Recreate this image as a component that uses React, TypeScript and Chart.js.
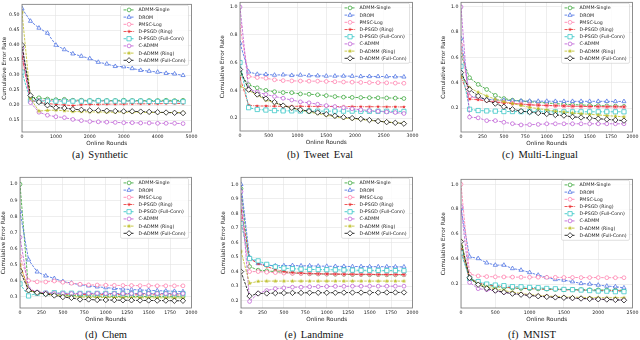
import React, { useEffect, useRef } from 'react';
import { Chart, registerables } from 'chart.js';

Chart.register(...registerables);

// ---------------- DATA ----------------
const seriesNames = [
  'ADMM-Single',
  'DROM',
  'PMSC-Log',
  'D-PSGD (Ring)',
  'D-PSGD (Full-Conn)',
  'C-ADMM',
  'D-ADMM (Ring)',
  'D-ADMM (Full-Conn)',
];

// (a) Synthetic
const synRounds = [0, 250, 500, 750, 1000, 1250, 1500, 1750, 2000, 2250, 2500, 2750, 3000, 3250, 3500, 3750, 4000, 4250, 4500, 4750];
const synADMMSingle = [0.39, 0.226, 0.224, 0.220, 0.218, 0.219, 0.216, 0.216, 0.215, 0.216, 0.215, 0.215, 0.216, 0.215, 0.215, 0.215, 0.215, 0.216, 0.215, 0.216];
const synDROM = [0.522, 0.480, 0.457, 0.440, 0.400, 0.385, 0.371, 0.363, 0.355, 0.343, 0.337, 0.329, 0.328, 0.322, 0.316, 0.313, 0.310, 0.306, 0.304, 0.299];
const synPMSCLog = [0.37, 0.215, 0.216, 0.215, 0.214, 0.215, 0.214, 0.214, 0.213, 0.214, 0.213, 0.213, 0.213, 0.213, 0.213, 0.212, 0.212, 0.212, 0.212, 0.211];
const synDPSGDRing = [0.36, 0.215, 0.210, 0.205, 0.202, 0.200, 0.198, 0.201, 0.202, 0.202, 0.203, 0.203, 0.203, 0.204, 0.204, 0.204, 0.204, 0.205, 0.205, 0.205];
const synDPSGDFull = [0.31, 0.214, 0.213, 0.213, 0.213, 0.213, 0.213, 0.213, 0.213, 0.214, 0.213, 0.213, 0.213, 0.213, 0.213, 0.212, 0.212, 0.212, 0.211, 0.211];
const synCADMM = [0.39, 0.208, 0.176, 0.166, 0.161, 0.158, 0.152, 0.148, 0.145, 0.144, 0.143, 0.142, 0.141, 0.141, 0.140, 0.140, 0.139, 0.139, 0.139, 0.138];
const synDADMMRing = [0.51, 0.222, 0.180, 0.182, 0.183, 0.181, 0.178, 0.178, 0.177, 0.177, 0.176, 0.176, 0.176, 0.176, 0.176, 0.175, 0.175, 0.175, 0.175, 0.175];
const synDADMMFull = [0.40, 0.232, 0.210, 0.199, 0.191, 0.190, 0.186, 0.184, 0.182, 0.182, 0.181, 0.180, 0.179, 0.179, 0.178, 0.177, 0.176, 0.175, 0.174, 0.173];

// (b) Tweet Eval
const twRounds = [0, 150, 300, 450, 600, 750, 900, 1050, 1200, 1350, 1500, 1650, 1800, 1950, 2100, 2250, 2400, 2550, 2700, 2850];
const twADMMSingle = [0.52, 0.44, 0.418, 0.40, 0.39, 0.384, 0.383, 0.374, 0.372, 0.368, 0.362, 0.355, 0.351, 0.349, 0.348, 0.347, 0.346, 0.345, 0.344, 0.341];
const twDROM = [0.74, 0.533, 0.516, 0.515, 0.51, 0.512, 0.508, 0.51, 0.506, 0.505, 0.503, 0.503, 0.503, 0.502, 0.500, 0.500, 0.500, 0.499, 0.498, 0.497];
const twPMSCLog = [0.86, 0.50, 0.492, 0.487, 0.476, 0.47, 0.468, 0.467, 0.466, 0.466, 0.464, 0.462, 0.46, 0.459, 0.457, 0.456, 0.455, 0.454, 0.452, 0.451];
const twDPSGDRing = [0.49, 0.293, 0.287, 0.287, 0.285, 0.285, 0.285, 0.285, 0.284, 0.284, 0.284, 0.283, 0.283, 0.283, 0.282, 0.282, 0.282, 0.281, 0.281, 0.28];
const twDPSGDFull = [0.60, 0.275, 0.262, 0.258, 0.254, 0.252, 0.252, 0.251, 0.251, 0.25, 0.25, 0.25, 0.25, 0.25, 0.249, 0.249, 0.249, 0.249, 0.249, 0.248];
const twCADMM = [1.0, 0.41, 0.388, 0.37, 0.356, 0.343, 0.33, 0.317, 0.31, 0.30, 0.29, 0.283, 0.275, 0.267, 0.26, 0.254, 0.249, 0.244, 0.24, 0.233];
const twDADMMRing = [0.43, 0.40, 0.365, 0.33, 0.31, 0.29, 0.273, 0.258, 0.243, 0.233, 0.22, 0.21, 0.20, 0.195, 0.19, 0.183, 0.178, 0.172, 0.167, 0.162];
const twDADMMFull = [0.55, 0.405, 0.37, 0.34, 0.315, 0.29, 0.274, 0.26, 0.25, 0.24, 0.228, 0.216, 0.206, 0.2, 0.194, 0.186, 0.178, 0.171, 0.166, 0.16];

// (c) Multi-Lingual
const mlRounds = [0, 100, 200, 300, 400, 500, 600, 700, 800, 900, 1000, 1100, 1200, 1300, 1400, 1500, 1600, 1700, 1800, 1900];
const mlADMMSingle = [0.62, 0.44, 0.387, 0.347, 0.30, 0.275, 0.262, 0.255, 0.25, 0.245, 0.24, 0.235, 0.23, 0.227, 0.224, 0.221, 0.219, 0.217, 0.215, 0.213];
const mlDROM = [0.75, 0.295, 0.28, 0.27, 0.265, 0.262, 0.258, 0.256, 0.255, 0.254, 0.254, 0.253, 0.253, 0.253, 0.253, 0.253, 0.253, 0.253, 0.252, 0.252];
const mlPMSCLog = [0.70, 0.29, 0.275, 0.26, 0.25, 0.245, 0.238, 0.232, 0.227, 0.222, 0.22, 0.218, 0.215, 0.213, 0.212, 0.211, 0.21, 0.209, 0.208, 0.207];
const mlDPSGDRing = [0.45, 0.27, 0.265, 0.255, 0.245, 0.24, 0.235, 0.23, 0.225, 0.222, 0.22, 0.218, 0.216, 0.214, 0.213, 0.212, 0.211, 0.21, 0.21, 0.209];
const mlDPSGDFull = [0.53, 0.19, 0.18, 0.177, 0.175, 0.172, 0.172, 0.171, 0.171, 0.171, 0.17, 0.17, 0.17, 0.17, 0.17, 0.17, 0.17, 0.17, 0.17, 0.17];
const mlCADMM = [1.0, 0.128, 0.122, 0.10, 0.10, 0.087, 0.076, 0.066, 0.068, 0.07, 0.075, 0.075, 0.075, 0.075, 0.075, 0.075, 0.075, 0.075, 0.075, 0.075];
const mlDADMMRing = [0.45, 0.36, 0.325, 0.295, 0.27, 0.25, 0.235, 0.22, 0.205, 0.195, 0.185, 0.175, 0.168, 0.16, 0.155, 0.15, 0.145, 0.14, 0.135, 0.13];
const mlDADMMFull = [0.48, 0.347, 0.295, 0.262, 0.235, 0.21, 0.19, 0.175, 0.168, 0.16, 0.153, 0.145, 0.14, 0.13, 0.125, 0.12, 0.115, 0.11, 0.105, 0.10];

// (d) Chem
const chRounds = [0, 100, 200, 300, 400, 500, 600, 700, 800, 900, 1000, 1100, 1200, 1300, 1400, 1500, 1600, 1700, 1800, 1900];
const chADMMSingle = [1.0, 0.34, 0.325, 0.318, 0.314, 0.31, 0.308, 0.306, 0.305, 0.304, 0.303, 0.303, 0.302, 0.302, 0.301, 0.301, 0.301, 0.30, 0.30, 0.30];
const chDROM = [0.83, 0.53, 0.455, 0.43, 0.414, 0.395, 0.385, 0.375, 0.368, 0.362, 0.357, 0.352, 0.348, 0.345, 0.342, 0.34, 0.338, 0.336, 0.334, 0.332];
const chPMSCLog = [0.55, 0.40, 0.393, 0.392, 0.398, 0.39, 0.384, 0.378, 0.374, 0.373, 0.372, 0.371, 0.37, 0.37, 0.369, 0.369, 0.368, 0.368, 0.368, 0.368];
const chDPSGDRing = [0.50, 0.345, 0.33, 0.322, 0.318, 0.316, 0.315, 0.314, 0.314, 0.313, 0.313, 0.313, 0.313, 0.312, 0.312, 0.312, 0.312, 0.312, 0.311, 0.311];
const chDPSGDFull = [0.38, 0.305, 0.322, 0.322, 0.325, 0.322, 0.322, 0.321, 0.321, 0.321, 0.321, 0.32, 0.32, 0.32, 0.32, 0.32, 0.32, 0.32, 0.319, 0.319];
const chCADMM = [0.67, 0.35, 0.33, 0.325, 0.322, 0.32, 0.32, 0.32, 0.32, 0.321, 0.32, 0.32, 0.32, 0.32, 0.32, 0.32, 0.32, 0.32, 0.32, 0.32];
const chDADMMRing = [0.50, 0.34, 0.325, 0.316, 0.31, 0.305, 0.30, 0.298, 0.297, 0.296, 0.295, 0.295, 0.294, 0.294, 0.294, 0.293, 0.293, 0.293, 0.292, 0.292];
const chDADMMFull = [0.46, 0.34, 0.325, 0.317, 0.308, 0.298, 0.293, 0.283, 0.283, 0.28, 0.28, 0.279, 0.278, 0.278, 0.277, 0.277, 0.276, 0.276, 0.275, 0.275];

// (e) Landmine
const lmRounds = [0, 100, 200, 300, 400, 500, 600, 700, 800, 900, 1000, 1100, 1200, 1300, 1400, 1500, 1600, 1700, 1800, 1900];
const lmADMMSingle = [0.97, 0.435, 0.41, 0.405, 0.40, 0.395, 0.39, 0.388, 0.385, 0.384, 0.383, 0.382, 0.381, 0.38, 0.38, 0.379, 0.379, 0.378, 0.378, 0.378];
const lmDROM = [1.0, 0.497, 0.456, 0.445, 0.44, 0.441, 0.442, 0.44, 0.44, 0.438, 0.437, 0.436, 0.436, 0.435, 0.435, 0.434, 0.434, 0.434, 0.433, 0.433];
const lmPMSCLog = [0.78, 0.40, 0.40, 0.396, 0.393, 0.39, 0.388, 0.387, 0.386, 0.385, 0.384, 0.384, 0.383, 0.383, 0.382, 0.382, 0.381, 0.381, 0.38, 0.38];
const lmDPSGDRing = [0.82, 0.49, 0.455, 0.435, 0.415, 0.40, 0.393, 0.39, 0.387, 0.385, 0.384, 0.383, 0.382, 0.382, 0.381, 0.381, 0.38, 0.38, 0.38, 0.38];
const lmDPSGDFull = [0.73, 0.49, 0.474, 0.45, 0.433, 0.424, 0.42, 0.417, 0.415, 0.414, 0.413, 0.412, 0.411, 0.41, 0.409, 0.409, 0.408, 0.407, 0.407, 0.406];
const lmCADMM = [0.95, 0.195, 0.25, 0.27, 0.283, 0.288, 0.293, 0.293, 0.296, 0.297, 0.298, 0.299, 0.299, 0.3, 0.3, 0.3, 0.3, 0.3, 0.3, 0.3];
const lmDADMMRing = [0.54, 0.32, 0.333, 0.335, 0.335, 0.335, 0.335, 0.335, 0.335, 0.335, 0.335, 0.335, 0.335, 0.335, 0.335, 0.335, 0.335, 0.335, 0.335, 0.335];
const lmDADMMFull = [0.40, 0.232, 0.25, 0.25, 0.252, 0.253, 0.254, 0.254, 0.255, 0.255, 0.255, 0.255, 0.256, 0.256, 0.256, 0.256, 0.256, 0.257, 0.257, 0.257];

// (f) MNIST
const mnRounds = [0, 125, 250, 375, 500, 625, 750, 875, 1000, 1125, 1250, 1375, 1500, 1625, 1750, 1875, 2000, 2125, 2250, 2375];
const mnADMMSingle = [0.50, 0.24, 0.205, 0.19, 0.18, 0.172, 0.168, 0.165, 0.163, 0.161, 0.16, 0.158, 0.157, 0.156, 0.155, 0.154, 0.153, 0.152, 0.151, 0.15];
const mnDROM = [0.805, 0.419, 0.405, 0.37, 0.352, 0.352, 0.325, 0.312, 0.293, 0.272, 0.253, 0.237, 0.232, 0.219, 0.205, 0.2, 0.192, 0.184, 0.179, 0.17];
const mnPMSCLog = [1.0, 0.28, 0.265, 0.26, 0.258, 0.257, 0.256, 0.255, 0.255, 0.255, 0.254, 0.254, 0.253, 0.253, 0.252, 0.252, 0.252, 0.251, 0.251, 0.251];
const mnDPSGDRing = [0.48, 0.25, 0.21, 0.195, 0.185, 0.176, 0.17, 0.166, 0.163, 0.16, 0.158, 0.156, 0.154, 0.152, 0.151, 0.15, 0.149, 0.148, 0.147, 0.145];
const mnDPSGDFull = [0.45, 0.245, 0.22, 0.2, 0.192, 0.187, 0.179, 0.178, 0.173, 0.171, 0.165, 0.162, 0.157, 0.155, 0.152, 0.148, 0.144, 0.143, 0.139, 0.139];
const mnCADMM = [0.82, 0.213, 0.163, 0.155, 0.145, 0.133, 0.125, 0.118, 0.11, 0.105, 0.1, 0.095, 0.092, 0.088, 0.085, 0.083, 0.08, 0.078, 0.075, 0.073];
const mnDADMMRing = [0.55, 0.25, 0.2, 0.178, 0.162, 0.148, 0.135, 0.125, 0.115, 0.11, 0.104, 0.1, 0.097, 0.095, 0.093, 0.092, 0.091, 0.09, 0.09, 0.09];
const mnDADMMFull = [0.54, 0.25, 0.195, 0.165, 0.148, 0.135, 0.123, 0.115, 0.108, 0.102, 0.097, 0.093, 0.09, 0.087, 0.084, 0.081, 0.078, 0.076, 0.073, 0.07];

const xAxisTitle = 'Online Rounds';
const yAxisTitle = 'Cumulative Error Rate';

// ---------------- STYLES ----------------
const FONT = "'DejaVu Sans', sans-serif";
const TEXT = '#222222';

function makeStar(color: string, size: number) {
  const c = document.createElement('canvas');
  const s = Math.ceil(size) + 2;
  c.width = s;
  c.height = s;
  const g = c.getContext('2d')!;
  const cx = s / 2;
  const cy = s / 2;
  const R = size / 2;
  const r = R * 0.42;
  g.beginPath();
  for (let i = 0; i < 10; i++) {
    const ang = -Math.PI / 2 + (i * Math.PI) / 5;
    const rad = i % 2 === 0 ? R : r;
    g.lineTo(cx + rad * Math.cos(ang), cy + rad * Math.sin(ang));
  }
  g.closePath();
  g.fillStyle = color;
  g.fill();
  return c;
}

type SeriesStyle = {
  color: string;
  marker: string;
  radius: number;
  dash: number[];
  fill: string;
  star?: number;
};

const DASH = [2.6, 1.1];
const DASHDOT = [3, 1, 0.8, 1];

const seriesStyles: SeriesStyle[] = [
  { color: '#2ca02c', marker: 'circle', radius: 1.9, dash: DASH, fill: '#ffffff' },
  { color: '#4169e1', marker: 'triangle', radius: 2.4, dash: DASH, fill: '#ffffff' },
  { color: '#ff77a8', marker: 'circle', radius: 1.9, dash: DASH, fill: '#ffffff' },
  { color: '#e8282a', marker: 'star', radius: 2, dash: DASHDOT, fill: '#e8282a', star: 4 },
  { color: '#22c0c0', marker: 'rect', radius: 3.0, dash: DASH, fill: '#ffffff' },
  { color: '#ba55d3', marker: 'circle', radius: 1.9, dash: DASH, fill: '#ffffff' },
  { color: '#bcbd22', marker: 'star', radius: 2.2, dash: DASH, fill: '#bcbd22', star: 4.6 },
  { color: '#000000', marker: 'rectRot', radius: 2.7, dash: DASH, fill: '#ffffff' },
];

type Panel = {
  rounds: number[];
  series: number[][];
  xMax: number;
  xStep: number;
  yMin: number;
  yMax: number;
  yStep: number;
  yDec: number;
  plot: { l: number; r: number; t: number; b: number };
  caption: string;
  capX: number;
  capY: number;
};

const panels: Panel[] = [
  {
    rounds: synRounds,
    series: [synADMMSingle, synDROM, synPMSCLog, synDPSGDRing, synDPSGDFull, synCADMM, synDADMMRing, synDADMMFull],
    xMax: 5000, xStep: 1000, yMin: 0.11, yMax: 0.536, yStep: 0.05, yDec: 2,
    plot: { l: 22, r: 193, t: 4, b: 132 },
    caption: '(a) Synthetic', capX: 100, capY: 155,
  },
  {
    rounds: twRounds,
    series: [twADMMSingle, twDROM, twPMSCLog, twDPSGDRing, twDPSGDFull, twCADMM, twDADMMRing, twDADMMFull],
    xMax: 3000, xStep: 500, yMin: 0.107, yMax: 1.034, yStep: 0.2, yDec: 1,
    plot: { l: 240, r: 414, t: 2, b: 131 },
    caption: '(b) Tweet Eval', capX: 320, capY: 155,
  },
  {
    rounds: mlRounds,
    series: [mlADMMSingle, mlDROM, mlPMSCLog, mlDPSGDRing, mlDPSGDFull, mlCADMM, mlDADMMRing, mlDADMMFull],
    xMax: 2000, xStep: 250, yMin: 0.01, yMax: 1.037, yStep: 0.2, yDec: 1,
    plot: { l: 461, r: 634, t: 2, b: 132 },
    caption: '(c) Multi-Lingual', capX: 540, capY: 155,
  },
  {
    rounds: chRounds,
    series: [chADMMSingle, chDROM, chPMSCLog, chDPSGDRing, chDPSGDFull, chCADMM, chDADMMRing, chDADMMFull],
    xMax: 2000, xStep: 250, yMin: 0.23, yMax: 1.043, yStep: 0.1, yDec: 1,
    plot: { l: 20, r: 193, t: 177, b: 308 },
    caption: '(d) Chem', capX: 106, capY: 335,
  },
  {
    rounds: lmRounds,
    series: [lmADMMSingle, lmDROM, lmPMSCLog, lmDPSGDRing, lmDPSGDFull, lmCADMM, lmDADMMRing, lmDADMMFull],
    xMax: 2000, xStep: 250, yMin: 0.15, yMax: 1.048, yStep: 0.1, yDec: 1,
    plot: { l: 241, r: 414, t: 177, b: 308 },
    caption: '(e) Landmine', capX: 314, capY: 335,
  },
  {
    rounds: mnRounds,
    series: [mnADMMSingle, mnDROM, mnPMSCLog, mnDPSGDRing, mnDPSGDFull, mnCADMM, mnDADMMRing, mnDADMMFull],
    xMax: 2500, xStep: 500, yMin: 0.008, yMax: 1.04, yStep: 0.2, yDec: 1,
    plot: { l: 461, r: 634, t: 179, b: 308 },
    caption: '(f) MNIST', capX: 532, capY: 335,
  },
];

// ---------------- PLUGINS ----------------
function drawMarker(ctx: CanvasRenderingContext2D, st: SeriesStyle, img: any, x: number, y: number) {
  if (st.marker === 'star') {
    ctx.drawImage(img, x - img.width / 2, y - img.height / 2);
    return;
  }
  const r = st.radius;
  ctx.beginPath();
  if (st.marker === 'circle') {
    ctx.arc(x, y, r, 0, Math.PI * 2);
  } else if (st.marker === 'triangle') {
    for (let i = 0; i < 3; i++) {
      const a = -Math.PI / 2 + (i * 2 * Math.PI) / 3;
      ctx.lineTo(x + r * Math.cos(a), y + r * Math.sin(a));
    }
    ctx.closePath();
  } else if (st.marker === 'rect') {
    const h = r * Math.SQRT1_2;
    ctx.rect(x - h, y - h, 2 * h, 2 * h);
  } else if (st.marker === 'rectRot') {
    ctx.moveTo(x, y - r);
    ctx.lineTo(x + r, y);
    ctx.lineTo(x, y + r);
    ctx.lineTo(x - r, y);
    ctx.closePath();
  }
  ctx.fillStyle = st.fill;
  ctx.fill();
  ctx.strokeStyle = st.color;
  ctx.lineWidth = 0.7;
  ctx.stroke();
}

const framePlugin = {
  id: 'frame',
  afterDatasetsDraw(chart: any) {
    const { ctx, chartArea: a } = chart;
    ctx.save();
    ctx.strokeStyle = '#777777';
    ctx.lineWidth = 0.8;
    ctx.strokeRect(a.left, a.top, a.right - a.left, a.bottom - a.top);
    ctx.restore();
  },
};

const legendPlugin = {
  id: 'innerLegend',
  afterDraw(chart: any) {
    const { ctx, chartArea: a } = chart;
    const boxW = 68;
    const rowH = 7.2;
    const boxH = 60;
    const x0 = a.right - 3 - boxW;
    const y0 = a.top + 1;
    ctx.save();
    ctx.fillStyle = 'rgba(255,255,255,0.85)';
    ctx.strokeStyle = '#cccccc';
    ctx.lineWidth = 0.6;
    ctx.beginPath();
    (ctx as any).roundRect(x0, y0, boxW, boxH, 1.5);
    ctx.fill();
    ctx.stroke();
    chart.data.datasets.forEach((ds: any, i: number) => {
      const st: SeriesStyle = ds._style;
      const cy = y0 + 4.6 + rowH * i;
      ctx.save();
      ctx.strokeStyle = st.color;
      ctx.lineWidth = 0.8;
      ctx.setLineDash(st.dash);
      ctx.beginPath();
      ctx.moveTo(x0 + 3, cy);
      ctx.lineTo(x0 + 14, cy);
      ctx.stroke();
      ctx.setLineDash([]);
      drawMarker(ctx, st, ds._img, x0 + 8.5, cy);
      ctx.restore();
      ctx.fillStyle = TEXT;
      ctx.font = `4.7px ${FONT}`;
      ctx.textBaseline = 'middle';
      ctx.textAlign = 'left';
      ctx.fillText(ds.label, x0 + 18, cy + 0.3);
    });
    ctx.restore();
  },
};

// ---------------- COMPONENTS ----------------
function PanelChart({ p }: { p: Panel }) {
  const ref = useRef<HTMLCanvasElement>(null);
  const left = Math.max(0, p.plot.l - 21);
  const top = p.plot.t - 5;
  const w = p.plot.r + 6 - left;
  const h = p.plot.b + 15 - top;
  const yAxisW = p.plot.l - left;

  useEffect(() => {
    const datasets = p.series.map((vals, si) => {
      const st = seriesStyles[si];
      const img = st.marker === 'star' ? makeStar(st.color, st.star || 4) : null;
      return {
        label: seriesNames[si],
        data: p.rounds.map((x, i) => ({ x, y: vals[i] })),
        borderColor: st.color,
        borderWidth: 0.8,
        borderDash: st.dash,
        backgroundColor: st.fill,
        pointStyle: img ? img : st.marker,
        pointRadius: st.radius,
        pointBorderWidth: 0.7,
        pointBorderColor: st.color,
        pointBackgroundColor: st.fill,
        tension: 0,
        fill: false,
        order: 7 - si,
        _style: st,
        _img: img,
      } as any;
    });
    const tickFont = { family: FONT, size: 4.7 };
    const titleFont = { family: FONT, size: 5.7 };
    const chart = new Chart(ref.current!, {
      type: 'line',
      data: { datasets },
      options: {
        animation: false,
        responsive: false,
        devicePixelRatio: 1,
        layout: { padding: { left: 0, top: 5, right: 6, bottom: 0 } },
        plugins: { legend: { display: false }, tooltip: { enabled: false } },
        scales: {
          x: {
            type: 'linear',
            min: 0,
            max: p.xMax,
            ticks: {
              stepSize: p.xStep,
              font: tickFont,
              color: TEXT,
              padding: 1.5,
              maxRotation: 0,
              autoSkip: false,
              callback: (v: any) => String(v),
            },
            grid: { color: '#e3e3e3', lineWidth: 0.6, drawTicks: false },
            border: { display: false },
            title: { display: true, text: xAxisTitle, font: titleFont, color: TEXT, padding: 0 },
            afterFit: (s: any) => {
              s.height = 15;
            },
          },
          y: {
            type: 'linear',
            min: p.yMin,
            max: p.yMax,
            ticks: {
              stepSize: p.yStep,
              includeBounds: false,
              font: tickFont,
              color: TEXT,
              padding: 2.5,
              autoSkip: false,
              callback: (v: any) => Number(v).toFixed(p.yDec),
            },
            grid: { color: '#e3e3e3', lineWidth: 0.6, drawTicks: false },
            border: { display: false },
            title: { display: true, text: yAxisTitle, font: titleFont, color: TEXT, padding: 0 },
            afterFit: (s: any) => {
              s.width = yAxisW;
            },
          },
        },
      } as any,
      plugins: [framePlugin, legendPlugin],
    });
    return () => chart.destroy();
  }, []);

  return (
    <canvas
      ref={ref}
      width={w}
      height={h}
      style={{ position: 'absolute', left, top, width: w, height: h }}
    />
  );
}

export default function App() {
  return (
    <div style={{ position: 'absolute', left: 0, top: 0, width: 640, height: 340, background: '#ffffff', overflow: 'hidden' }}>
      {panels.map((p, i) => (
        <PanelChart key={i} p={p} />
      ))}
      {panels.map((p, i) => (
        <div
          key={'c' + i}
          style={{
            position: 'absolute',
            left: p.capX,
            top: p.capY - 6,
            transform: 'translateX(-50%)',
            fontFamily: "'Liberation Serif', 'Times New Roman', serif",
            fontSize: 10.5,
            lineHeight: '12px',
            whiteSpace: 'pre',
            wordSpacing: 2,
            color: '#111',
          }}
        >
          {p.caption}
        </div>
      ))}
    </div>
  );
}
